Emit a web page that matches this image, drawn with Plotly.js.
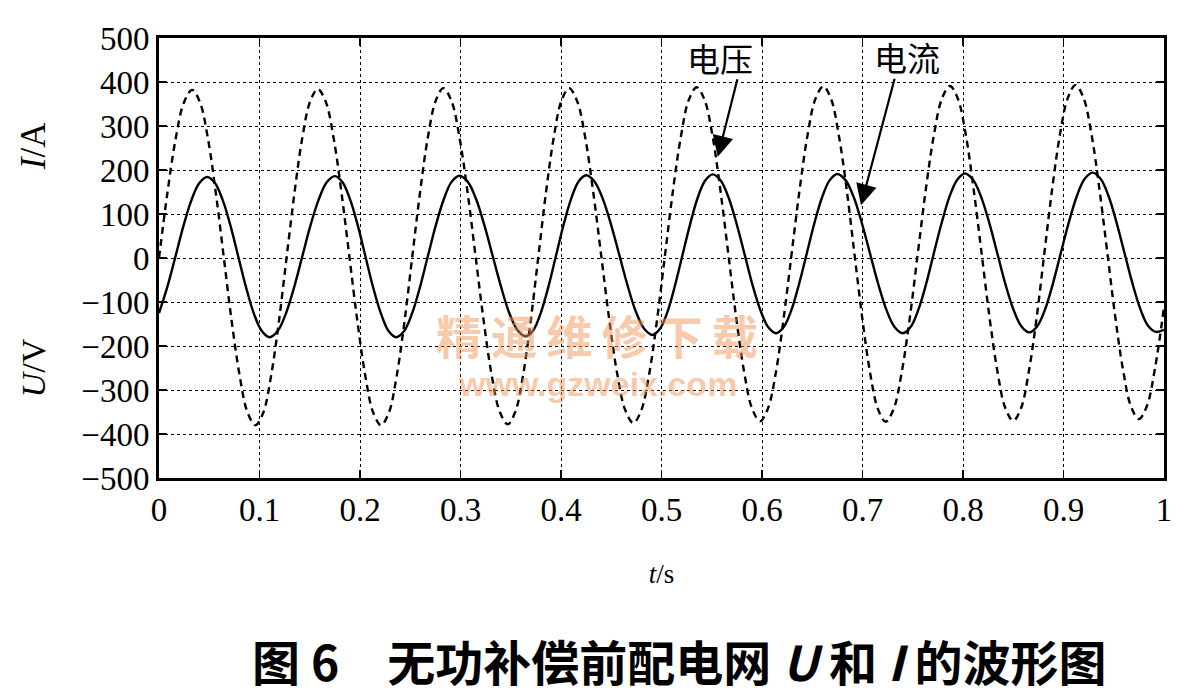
<!DOCTYPE html>
<html>
<head>
<meta charset="utf-8">
<script src="https://cdn.plot.ly/plotly-3.0.1.min.js"></script>
<style>html,body{margin:0;padding:0;background:#fff;}#chart{width:1193px;height:699px;}</style>
</head>
<body>
<div id="chart"></div>
<script>
// Voltage U (dashed)
var voltageT = [0, 0.00825, 0.0165, 0.02475, 0.033,
  0.0409, 0.0488, 0.0566, 0.0645, 0.0724, 0.0803, 0.0881, 0.096,
  0.1038, 0.1115, 0.1193, 0.127, 0.1348, 0.1425, 0.1503, 0.158,
  0.1659, 0.1738, 0.1816, 0.1895, 0.1974, 0.2053, 0.2131, 0.221,
  0.2288, 0.2365, 0.2443, 0.252, 0.2598, 0.2675, 0.2753, 0.283,
  0.291, 0.299, 0.307, 0.315, 0.323, 0.331, 0.339, 0.347,
  0.3546, 0.3623, 0.3699, 0.3775, 0.3851, 0.3928, 0.4004, 0.408,
  0.416, 0.424, 0.432, 0.44, 0.448, 0.456, 0.464, 0.472,
  0.4799, 0.4878, 0.4956, 0.5035, 0.5114, 0.5193, 0.5271, 0.535,
  0.5429, 0.5508, 0.5586, 0.5665, 0.5744, 0.5823, 0.5901, 0.598,
  0.6059, 0.6138, 0.6216, 0.6295, 0.6374, 0.6453, 0.6531, 0.661,
  0.6688, 0.6765, 0.6843, 0.692, 0.6998, 0.7075, 0.7153, 0.723,
  0.731, 0.739, 0.747, 0.755, 0.763, 0.771, 0.779, 0.787,
  0.7949, 0.8028, 0.8106, 0.8185, 0.8264, 0.8343, 0.8421, 0.850,
  0.8578, 0.8655, 0.8733, 0.881, 0.8888, 0.8965, 0.9043, 0.912,
  0.9199, 0.9278, 0.9356, 0.9435, 0.9514, 0.9593, 0.9671, 0.975,
  0.9829, 0.9908, 1.0];
var voltageU = [0, 146, 270, 353, 382,
  353, 270, 147, 1, -145, -268, -351, -380,
  -351, -268, -144, 2, 148, 272, 355, 384,
  355, 272, 148, 2, -144, -268, -351, -380,
  -351, -268, -144, 3, 150, 274, 357, 386,
  357, 274, 150, 4, -142, -266, -349, -378,
  -349, -266, -142, 4, 150, 274, 357, 386,
  357, 275, 151, 6, -140, -264, -346, -375,
  -346, -263, -140, 7, 153, 276, 359, 388,
  359, 277, 154, 9, -137, -260, -342, -371,
  -342, -260, -136, 10, 155, 279, 361, 390,
  361, 278, 155, 9, -137, -260, -343, -372,
  -343, -260, -137, 10, 156, 279, 362, 391,
  362, 280, 156, 11, -135, -258, -341, -370,
  -341, -258, -135, 12, 158, 281, 364, 393,
  364, 282, 159, 14, -132, -255, -337, -366,
  -337, -254, -112];

// Current I (solid)
var currentT = [0, 0.008, 0.016, 0.024, 0.032, 0.040, 0.048,
  0.0558, 0.0635, 0.0713, 0.079, 0.0868, 0.0945, 0.1023, 0.110,
  0.1181, 0.1263, 0.1344, 0.1425, 0.1506, 0.1588, 0.1669, 0.175,
  0.1826, 0.1903, 0.1979, 0.2055, 0.2131, 0.2208, 0.2284, 0.236,
  0.2439, 0.2518, 0.2596, 0.2675, 0.2754, 0.2833, 0.2911, 0.299,
  0.3073, 0.3155, 0.3238, 0.332, 0.3403, 0.3485, 0.3568, 0.365,
  0.3725, 0.38, 0.3875, 0.395, 0.4025, 0.41, 0.4175, 0.425,
  0.4333, 0.4415, 0.4498, 0.458, 0.4663, 0.4745, 0.4828, 0.491,
  0.4985, 0.506, 0.5135, 0.521, 0.5285, 0.536, 0.5435, 0.551,
  0.5589, 0.5668, 0.5746, 0.5825, 0.5904, 0.5983, 0.6061, 0.614,
  0.6216, 0.6293, 0.6369, 0.6445, 0.6521, 0.6598, 0.6674, 0.675,
  0.6831, 0.6913, 0.6994, 0.7075, 0.7156, 0.7238, 0.7319, 0.740,
  0.7478, 0.7555, 0.7633, 0.771, 0.7788, 0.7865, 0.7943, 0.802,
  0.81, 0.818, 0.826, 0.834, 0.842, 0.85, 0.858, 0.866,
  0.8739, 0.8818, 0.8896, 0.8975, 0.9054, 0.9133, 0.9211, 0.929,
  0.9369, 0.9448, 0.9526, 0.9605, 0.9684, 0.9763, 0.9841, 0.992,
  1.0];
var currentI = [-125, -68, 0, 70, 130, 170, 184,
  170, 131, 72, 2, -68, -127, -166, -180,
  -166, -126, -67, 3, 73, 132, 172, 186,
  172, 132, 73, 3, -67, -126, -166, -180,
  -166, -126, -67, 4, 74, 133, 173, 187,
  173, 134, 74, 5, -65, -125, -164, -178,
  -164, -124, -65, 5, 75, 134, 174, 188,
  174, 135, 76, 7, -63, -122, -161, -175,
  -161, -122, -62, 8, 77, 137, 176, 190,
  176, 137, 79, 10, -60, -118, -157, -171,
  -157, -118, -59, 10, 79, 138, 177, 191,
  177, 138, 79, 10, -59, -118, -157, -171,
  -157, -118, -59, 11, 80, 139, 178, 192,
  178, 139, 81, 12, -58, -116, -155, -169,
  -155, -116, -57, 13, 82, 141, 180, 194,
  180, 141, 82, 13, -56, -115, -154, -168,
  -163];

var xTickVals = [0, 0.1, 0.2, 0.3, 0.4, 0.5, 0.6, 0.7, 0.8, 0.9, 1];
var xTickText = ['0', '0.1', '0.2', '0.3', '0.4', '0.5', '0.6', '0.7', '0.8', '0.9', '1'];
var yTickVals = [-500, -400, -300, -200, -100, 0, 100, 200, 300, 400, 500];
var yTickText = ['\u2212500', '\u2212400', '\u2212300', '\u2212200', '\u2212100', '0', '100', '200', '300', '400', '500'];

var serif = 'Liberation Serif, Times New Roman, serif';
var cjk = 'Noto Sans CJK SC, sans-serif';
var wm = 'rgba(240,150,90,0.5)';

var traces = [
  {x: voltageT, y: voltageU, type: 'scatter', mode: 'lines', name: '电压',
   line: {color: '#000', width: 2.4, dash: '7px,5px', shape: 'spline', smoothing: 1}},
  {x: currentT, y: currentI, type: 'scatter', mode: 'lines', name: '电流',
   line: {color: '#000', width: 2.4, shape: 'spline', smoothing: 1}}
];

var axisCommon = {
  showline: true, linecolor: '#000', linewidth: 3, mirror: 'ticks',
  ticks: 'inside', ticklen: 8, tickwidth: 1.5, tickcolor: '#000',
  showgrid: true, gridcolor: '#000', gridwidth: 1, griddash: 'dot',
  zeroline: false, tickfont: {family: serif, size: 33, color: '#000'}
};

function note(x, y, text, font, extra) {
  return Object.assign({xref: 'paper', yref: 'paper', x: x, y: y, text: text, showarrow: false,
    xanchor: 'center', yanchor: 'middle', font: font}, extra || {});
}

var layout = {
  width: 1193, height: 699,
  margin: {l: 159, r: 29, t: 38, b: 221},
  paper_bgcolor: '#fff', plot_bgcolor: '#fff',
  showlegend: false,
  xaxis: Object.assign({}, axisCommon, {
    range: [0, 1], tickmode: 'array', tickvals: xTickVals, ticktext: xTickText,
    title: {text: '<i>t</i>/s', font: {family: serif, size: 27, color: '#000'}, standoff: 38}
  }),
  yaxis: Object.assign({}, axisCommon, {
    range: [-500, 500], tickmode: 'array', tickvals: yTickVals, ticktext: yTickText,
    title: {text: ''}
  }),
  annotations: [
    note(-0.125, 0.755, '<i>I</i>/A', {family: serif, size: 35, color: '#000'}, {textangle: -90}),
    note(-0.125, 0.25, '<i>U</i>/V', {family: serif, size: 34, color: '#000'}, {textangle: -90}),
    note(0.558, 0.955, '电压', {family: cjk, size: 33, color: '#000'}),
    note(0.744, 0.957, '电流', {family: cjk, size: 33, color: '#000'}),
    {x: 0.556, y: 230, xref: 'x', yref: 'y', text: '', showarrow: true, ax: 20, ay: -79,
     axref: 'pixel', ayref: 'pixel', arrowhead: 2, arrowsize: 1.9, arrowwidth: 2.2, arrowcolor: '#000'},
    {x: 0.6985, y: 120, xref: 'x', yref: 'y', text: '', showarrow: true, ax: 34, ay: -128,
     axref: 'pixel', ayref: 'pixel', arrowhead: 2, arrowsize: 1.9, arrowwidth: 2.2, arrowcolor: '#000'},
    note(0.436, 0.328, '<b>精\u2009通\u2009维\u2009修\u2009下\u2009载</b>', {family: cjk, size: 46, color: wm}),
    note(0.436, 0.2136, '<b>www.gzweix.com</b>', {family: 'Liberation Sans, Arial, sans-serif', size: 34, color: wm}),
    note(0.518, -0.4136, '<b>图 6　无功补偿前配电网 <i>U</i> 和 <i>I</i> 的波形图</b>', {family: cjk, size: 48, color: '#000'})
  ]
};

Plotly.newPlot('chart', traces, layout, {staticPlot: true, displayModeBar: false});
</script>
</body>
</html>
